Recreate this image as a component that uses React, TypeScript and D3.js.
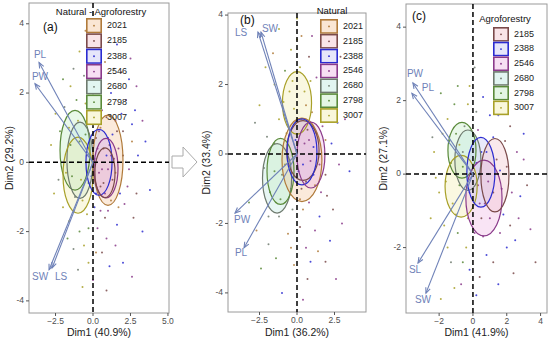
import * as d3 from "d3";

// groups (sites) and their colours
const years = ["2021", "2185", "2388", "2546", "2680", "2798", "3007"];
const strokeCols = ["#B07A3A", "#7A4A4A", "#2B2BD0", "#8A3A8A", "#6E7A6E", "#5A8A3A", "#A8A028"];
const fillCols = ["#F4C7A0", "#F2C4CC", "#C8C8F4", "#EEB8E4", "#BFE8E0", "#C4ECC4", "#F2EDB0"];

// confidence ellipses: [group, cx, cy, rx, ry]
const ellA = [
  [5, -1.2, 0.35, 1.0, 1.15], [4, -0.87, 0.06, 0.87, 1.1], [6, -1.0, -0.37, 1.0, 1.1],
  [0, 1.0, 0.06, 1.0, 1.3], [2, 0.4, 0.0, 0.87, 0.95], [3, 0.87, -0.17, 0.8, 0.86], [1, 0.8, -0.3, 0.67, 0.72],
];
const ellB = [
  [6, 0.0, 1.47, 0.97, 0.9], [4, -1.33, -0.7, 0.97, 1.0], [5, -1.1, -0.5, 0.9, 0.95],
  [0, 0.33, -0.17, 1.33, 1.2], [1, 0.4, 0.1, 1.07, 0.86], [2, 0.33, 0.06, 1.0, 0.95], [3, 0.93, -0.03, 0.93, 0.95],
];
const ellC = [
  [5, -0.65, 0.65, 0.83, 0.76], [4, -0.3, 0.38, 0.77, 0.82], [6, -0.7, -0.33, 0.95, 0.84],
  [3, 0.65, -0.65, 1.07, 1.03], [2, 0.47, 0.05, 0.83, 0.95], [1, 1.3, -0.03, 0.83, 1.0],
];

// variable loadings (arrows)
const arrA = [["PL", -3.6, 2.88], ["PW", -3.87, 2.27], ["SW", -2.93, -3.1], ["LS", -2.73, -3.05]];
const arrB = [["LS", -2.6, 3.51], ["SW", -2.4, 3.51], ["PW", -4.13, -1.7], ["PL", -3.53, -2.7]];
const arrC = [["PW", -3.55, 2.48], ["PL", -3.61, 2.2], ["SL", -3.25, -2.42], ["SW", -2.78, -3.24]];

// individuals: [dim1, dim2, group]
const ptsA = [
  [2.2,1.8,3],[2.8,1.5,2],[1.9,2.6,1],[3.3,1.2,3],[2.6,0.6,0],[3.0,0.2,2],[1.5,1.2,3],[1.2,2.0,2],[0.8,2.9,0],
  [0.4,3.3,1],[2.0,0.9,1],[1.7,0.4,3],[2.4,-0.2,3],[1.3,-0.5,1],[1.0,0.7,2],[0.6,1.5,3],[3.8,-0.8,2],[2.1,-1.2,3],
  [1.6,-1.8,2],[0.9,-2.2,3],[2.7,-1.6,1],[3.3,-2.0,2],[2.6,-3.3,3],[1.1,-3.0,2],[0.2,-2.6,0],[0.5,-1.4,3],
  [1.8,-0.9,2],[1.2,-1.1,0],[0.3,0.4,3],[0.7,-0.6,1],[1.4,0.1,3],[0.9,0.2,2],[2.0,0.2,1],[0.2,-0.9,2],
  [0.6,-0.2,3],[1.1,0.5,1],[1.5,-0.3,0],[-0.5,0.8,5],[-1.0,1.2,6],[-1.5,0.5,5],[-0.8,-0.5,6],[-1.8,-0.3,6],
  [-1.2,-1.0,4],[-0.4,-1.5,6],[-2.2,0.9,5],[-1.5,2.2,6],[-0.6,2.5,4],[-1.1,1.8,5],[-2.0,-1.3,6],[-0.9,-2.0,5],
  [-0.3,-2.9,6],[-1.3,-2.5,4],[-0.7,-3.6,6],[-2.3,-0.5,4],[-1.6,1.0,6],[-0.4,0.2,4],[-1.0,0.0,5],[-0.2,1.4,6],
  [-0.7,-1.1,6],[-0.3,-0.6,5],[-1.9,1.6,4],[-2.8,0.5,6],[-0.5,3.8,0],[0.1,0.1,2],[0.4,-0.3,3],[0.2,0.7,1],
  [-0.1,-0.4,2],[0.5,1.0,0],[0.3,-1.9,3],[0.0,1.8,6],[0.8,-1.6,1],[2.4,2.4,2],[1.0,-0.2,3],[0.7,0.4,1],
  [0.4,0.9,3],[0.9,1.3,1],[1.3,0.8,2],[0.5,-0.7,1],[1.0,-1.4,3],[0.1,-1.3,2],[1.7,-1.3,0],[2.3,-0.7,3],
  [2.9,-0.9,1],[1.9,1.4,2],[0.2,2.2,3],[1.4,2.7,1],[2.9,2.2,3],[3.5,0.6,2],[0.6,-2.6,1],[1.5,-2.4,3],
  [2.0,-2.9,2],[-0.6,-2.4,6],[-1.6,-1.7,6],[-1.4,-0.4,5],[-0.9,0.6,5],[-0.5,1.7,6],[-1.3,2.7,4],[-2.0,2.4,5],
  [-0.2,2.9,6],[-0.9,3.2,6],[-2.6,-0.9,6],[-1.7,-2.2,5],[-1.0,-3.1,4],[0.0,-3.4,3],[0.9,-3.7,1],[1.6,3.4,2],
  [2.5,3.0,3],[-0.3,-1.9,5],[0.3,1.4,2],[1.2,0.2,3],[0.8,-0.9,3],[1.6,0.9,1],[2.6,1.1,2],[-2.5,1.4,6],
];
const ptsB = [
  [0.0,3.9,6],[0.3,3.4,0],[-0.4,3.0,6],[0.8,2.8,1],[1.3,2.2,3],[-0.8,2.4,5],[-1.5,2.0,6],[0.5,1.8,6],[-0.2,1.3,6],
  [0.3,1.0,6],[1.0,1.2,0],[1.7,0.8,3],[2.3,0.3,2],[2.8,-0.3,3],[1.9,-0.6,1],[1.2,-0.9,0],[0.8,-1.4,3],[1.5,-1.8,2],
  [2.4,-1.6,1],[0.2,-2.1,1],[0.6,-2.7,3],[1.4,-2.8,0],[2.2,-2.5,2],[-0.2,-3.2,0],[0.7,-3.6,1],[2.6,-3.6,3],
  [-1.0,-4.0,2],[-0.6,-2.3,0],[-1.2,-1.8,4],[-1.8,-1.1,5],[-2.2,-0.4,4],[-1.5,0.3,5],[-0.7,0.6,6],[-1.0,-0.6,4],
  [-0.4,-1.0,5],[0.1,-0.5,2],[0.5,0.3,3],[0.9,-0.2,3],[0.3,-1.0,1],[-2.8,0.9,4],[-3.2,-1.4,5],[-2.5,1.4,6],
  [-1.9,-2.6,4],[-2.7,-2.2,0],[3.5,-0.5,2],[3.2,1.0,3],[1.8,1.6,1],[-0.5,1.8,6],[0.9,2.1,6],[-1.2,1.0,6],
  [1.6,-1.1,3],[0.4,-1.6,0],[-0.1,0.4,2],[0.7,0.7,1],[-0.6,-0.1,5],[2.0,2.6,3],[-1.6,2.9,0],[1.1,0.2,2],
  [0.2,2.5,6],[-0.3,2.1,6],[0.6,1.4,0],[-0.9,1.5,6],[1.3,0.6,1],[0.4,-0.3,2],[0.8,0.4,3],[1.5,-0.3,3],
  [1.1,-0.6,2],[0.2,-1.3,0],[-0.3,-1.6,4],[-1.5,-0.5,5],[-1.1,-1.3,5],[-2.0,0.5,4],[-0.8,-0.3,6],[2.0,-1.2,1],
  [1.9,0.4,0],[2.7,0.9,2],[1.2,-2.2,3],[-0.4,-2.7,0],[0.9,-3.1,2],[1.9,-3.1,1],[-1.4,-3.0,5],[3.0,-2.0,3],
  [2.1,1.9,2],[-2.1,2.5,6],[-0.1,0.9,6],[0.6,-0.8,1],[-1.9,-1.8,4],[0.0,3.3,6],[1.0,3.4,3],[-1.2,3.6,6],
  [2.9,2.8,1],[0.4,-4.2,3],[-2.4,-3.3,5],
];
const ptsC = [
  [-1.9,2.2,5],[-0.9,2.4,5],[-0.3,1.9,6],[0.6,2.1,2],[1.5,1.6,2],[2.2,1.3,1],[-1.5,1.5,6],[-0.5,1.3,4],[0.3,1.2,3],
  [1.2,1.0,2],[2.6,0.6,3],[3.2,-0.3,1],[2.3,-0.5,3],[1.8,-1.1,2],[2.7,-1.2,3],[3.7,-2.4,1],[-2.3,0.6,6],[-1.3,0.3,5],
  [-0.8,0.8,6],[-2.0,-0.5,6],[-1.2,-0.8,6],[-1.7,-1.4,6],[-0.9,-1.6,5],[-0.4,-2.0,6],[-0.2,-2.6,2],[0.6,-1.7,3],
  [1.2,-2.4,1],[2.0,-2.0,2],[1.5,-3.0,2],[-1.3,-2.4,4],[-0.7,-3.0,3],[-1.9,-3.4,6],[-2.5,-1.2,6],[0.2,0.3,2],
  [0.9,-0.2,3],[0.4,-0.8,3],[-0.2,-0.5,4],[1.4,0.4,1],[-0.6,0.2,5],[0.8,0.6,2],[2.0,0.2,1],[1.0,-1.2,3],
  [-1.1,1.9,5],[0.1,2.9,4],[-2.4,1.0,4],[3.0,1.1,2],[2.4,-2.7,1],[1.7,-0.4,3],[0.5,-1.2,1],
  [-1.0,1.1,5],[-0.6,0.6,4],[0.0,0.9,4],[0.5,0.6,2],[0.9,0.0,3],[0.3,-0.3,3],[0.7,-0.8,3],[1.2,-0.5,1],
  [1.6,0.1,2],[-0.3,-1.2,6],[-1.0,-1.1,6],[-1.6,-0.2,6],[-1.4,0.9,5],[-0.8,-0.3,5],[0.1,-1.6,3],[0.8,-2.2,2],
  [1.6,-1.6,3],[2.2,-1.4,1],[2.8,-0.6,2],[3.0,0.4,3],[1.9,0.9,1],[1.0,1.6,2],[0.2,1.7,4],[-1.8,1.1,6],
  [-2.2,-0.1,6],[-1.5,-2.0,6],[-0.6,-2.4,5],[0.4,-2.8,1],[-1.1,-3.1,6],[2.5,-1.8,2],[3.4,-1.5,3],[-0.2,2.4,6],
  [1.3,2.3,3],[0.2,-3.3,2],
];

const ticksA = { x: [-2.5, 0, 2.5, 5], y: [-4, -2, 0, 2, 4] };
const ticksB = { x: [-2.5, 0, 2.5], y: [-4, -2, 0, 2, 4] };
const ticksC = { x: [-2, 0, 2, 4], y: [-2, 0, 2, 4] };

const panels = [
  {
    tag: "(a)", xLab: "Dim1 (40.9%)", yLab: "Dim2 (29.2%)", legTitle: "Natural - Agroforestry",
    legGroups: [0, 1, 2, 3, 4, 5, 6], ell: ellA, arr: arrA, pts: ptsA, ticks: ticksA, fmt: d3.format(".1f"),
    rect: { x0: 29, x1: 169, y0: 3, y1: 313 }, xd: [-4.27, 5.07], yd: [-4.35, 4.6],
    leg: { x: 86, y: 18, w: 16, h: 15.3, tx: 101, ty: 12 }, tagPos: [43, 31], ylx: 10,
    labOff: { PL: [1, -7], PW: [5, -6], SW: [-9, 8], LS: [9, 9] },
  },
  {
    tag: "(b)", xLab: "Dim1 (36.2%)", yLab: "Dim2 (33.4%)", legTitle: "Natural",
    legGroups: [0, 1, 2, 3, 4, 5, 6], ell: ellB, arr: arrB, pts: ptsB, ticks: ticksB, fmt: d3.format(".1f"),
    rect: { x0: 228, x1: 366, y0: 13, y1: 312 }, xd: [-4.6, 4.6], yd: [-4.55, 4.06],
    leg: { x: 320, y: 19, w: 18, h: 14.85, tx: 332, ty: 11 }, tagPos: [240, 24], ylx: 207,
    labOff: { LS: [-17, 1], SW: [9, -3], PW: [7, 7], PL: [-3, 6] },
  },
  {
    tag: "(c)", xLab: "Dim1 (41.9%)", yLab: "Dim2 (27.1%)", legTitle: "Agroforestry",
    legGroups: [1, 2, 3, 4, 5, 6], ell: ellC, arr: arrC, pts: ptsC, ticks: ticksC, fmt: d3.format("d"),
    rect: { x0: 406, x1: 547, y0: 4, y1: 313 }, xd: [-3.96, 4.38], yd: [-3.78, 4.63],
    leg: { x: 493, y: 27, w: 16, h: 14.7, tx: 505, ty: 19 }, tagPos: [412, 20], ylx: 384,
    labOff: { PW: [2, -9], PL: [16, -5], SL: [-3, 7], SW: [-3, 7] },
  },
];

const arrowCol = "#6F82B8";
const font = "Liberation Sans, Arial, sans-serif";

const Panel = ({ p }) => {
  const { rect } = p;
  const xs = d3.scaleLinear().domain(p.xd).range([rect.x0, rect.x1]);
  const ys = d3.scaleLinear().domain(p.yd).range([rect.y1, rect.y0]);
  const ox = xs(0), oy = ys(0);

  return (
    <g>
      <rect x={rect.x0} y={rect.y0} width={rect.x1 - rect.x0} height={rect.y1 - rect.y0} fill="white" stroke="#9a9a9a" strokeWidth={1} />

      {p.ell.map(([g, cx, cy, rx, ry], i) => (
        <ellipse key={"ef" + i} cx={xs(cx)} cy={ys(cy)} rx={xs(rx) - ox} ry={oy - ys(ry)}
          fill={fillCols[g]} fillOpacity={0.38} stroke="none" />
      ))}
      {p.pts.map(([x, y, g], i) => (
        <circle key={"p" + i} cx={xs(x)} cy={ys(y)} r={1} fill={strokeCols[g]} opacity={0.85} />
      ))}
      {p.ell.map(([g, cx, cy, rx, ry], i) => (
        <ellipse key={"es" + i} cx={xs(cx)} cy={ys(cy)} rx={xs(rx) - ox} ry={oy - ys(ry)}
          fill="none" stroke={strokeCols[g]} strokeWidth={1.2} />
      ))}

      <line x1={rect.x0} x2={rect.x1} y1={oy} y2={oy} stroke="black" strokeWidth={1.5} strokeDasharray="5,3" />
      <line x1={ox} x2={ox} y1={rect.y0} y2={rect.y1} stroke="black" strokeWidth={1.5} strokeDasharray="5,3" />

      {p.arr.map(([name, x, y], i) => {
        const tx = xs(x), ty = ys(y);
        const ang = Math.atan2(ty - oy, tx - ox);
        const hl = 6, ha = 0.4;
        const h1 = [tx - hl * Math.cos(ang - ha), ty - hl * Math.sin(ang - ha)];
        const h2 = [tx - hl * Math.cos(ang + ha), ty - hl * Math.sin(ang + ha)];
        const off = p.labOff[name];
        return (
          <g key={"a" + i}>
            <line x1={ox} y1={oy} x2={tx} y2={ty} stroke={arrowCol} strokeWidth={1.1} />
            <path d={`M${h1[0]},${h1[1]}L${tx},${ty}L${h2[0]},${h2[1]}`} fill="none" stroke={arrowCol} strokeWidth={1.1} />
            <text x={tx + off[0]} y={ty + off[1]} fill={arrowCol} fontSize={10} textAnchor="middle" dominantBaseline="middle">{name}</text>
          </g>
        );
      })}

      {p.ticks.y.map((t) => (
        <g key={"yt" + t}>
          <line x1={rect.x0 - 3} x2={rect.x0} y1={ys(t)} y2={ys(t)} stroke="#555" />
          <text x={rect.x0 - 5} y={ys(t)} fontSize={8.5} fill="#4d4d4d" textAnchor="end" dominantBaseline="middle">{t}</text>
        </g>
      ))}
      {p.ticks.x.map((t) => (
        <g key={"xt" + t}>
          <line x1={xs(t)} x2={xs(t)} y1={rect.y1} y2={rect.y1 + 3} stroke="#555" />
          <text x={xs(t)} y={rect.y1 + 10.5} fontSize={8.5} fill="#4d4d4d" textAnchor="middle">{p.fmt(t)}</text>
        </g>
      ))}
      <text x={(rect.x0 + rect.x1) / 2} y={335.5} fontSize={10.5} textAnchor="middle" fill="#222">{p.xLab}</text>
      <text transform={`translate(${p.ylx},${(rect.y0 + rect.y1) / 2}) rotate(-90)`} fontSize={10.5} textAnchor="middle"
        dominantBaseline="middle" fill="#222">{p.yLab}</text>
      <text x={p.tagPos[0]} y={p.tagPos[1]} fontSize={12} fill="#111">{p.tag}</text>

      <text x={p.leg.tx} y={p.leg.ty} fontSize={9.5} textAnchor="middle" dominantBaseline="middle" fill="#111">{p.legTitle}</text>
      {p.legGroups.map((g, i) => {
        const y = p.leg.y + i * p.leg.h;
        return (
          <g key={"l" + g}>
            <rect x={p.leg.x} y={y} width={p.leg.w} height={p.leg.h} fill="white" />
            <rect x={p.leg.x + 0.8} y={y + 0.8} width={p.leg.w - 1.6} height={p.leg.h - 1.6} fill={fillCols[g]} fillOpacity={0.45}
              stroke={strokeCols[g]} strokeWidth={1.6} />
            <circle cx={p.leg.x + p.leg.w / 2} cy={y + p.leg.h / 2} r={0.9} fill={strokeCols[g]} />
            <text x={p.leg.x + p.leg.w + 5} y={y + p.leg.h / 2} fontSize={9} fill="#222" dominantBaseline="middle">{years[g]}</text>
          </g>
        );
      })}
    </g>
  );
};

export default function App() {
  return (
    <svg width={550} height={339} style={{ position: "absolute", left: 0, top: 0, fontFamily: font }}>
      <rect width={550} height={339} fill="white" />
      {/* hollow arrow between (a) and (b) */}
      <path d="M172,156 L183,156 L183,147 L197,162 L183,177 L183,168 L172,168 Z" fill="white" stroke="#aaa" strokeWidth={1} />
      {panels.map((p) => <Panel key={p.tag} p={p} />)}
    </svg>
  );
}
